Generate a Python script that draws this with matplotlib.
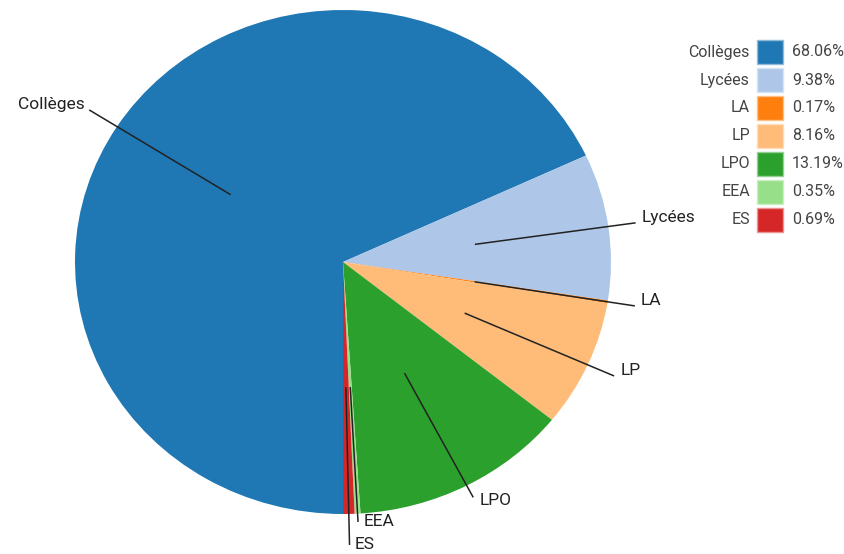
import matplotlib.pyplot as plt
import numpy as np
from matplotlib.patches import Rectangle

plt.rcParams['font.family'] = ['Roboto', 'DejaVu Sans']

labels = ["Collèges", "Lycées", "LA", "LP", "LPO", "EEA", "ES"]
values = [68.06, 9.38, 0.17, 8.16, 13.19, 0.35, 0.69]
colors = ["#1f77b4", "#aec7e8", "#ff7f0e", "#ffbb78", "#2ca02c", "#98df8a", "#d62728"]
borders = ["#8fbbd9", "#d6e3f3", "#ffc086", "#ffddbb", "#95cf95", "#cbefc4", "#eb9393"]
# how far out each leader line goes (in pie radii)
label_r = [1.12, 1.10, 1.10, 1.105, 1.05, 1.03, 1.12]

fig = plt.figure(figsize=(8.45, 5.54), dpi=100)
W, H = 845, 554
# pie is slightly wider than tall in the original
ax = fig.add_axes([75 / W, (H - 514) / H, 536 / W, 504 / H])
wedges, _ = ax.pie(values, colors=colors, startangle=-90, counterclock=False,
                   wedgeprops=dict(linewidth=0))
ax.set_aspect('auto')
ax.set_xlim(-1, 1)
ax.set_ylim(-1, 1)

for w, lab, r in zip(wedges, labels, label_r):
    ang = np.deg2rad((w.theta1 + w.theta2) / 2)
    x0, y0 = 0.5 * np.cos(ang), 0.5 * np.sin(ang)
    x1, y1 = r * np.cos(ang), r * np.sin(ang)
    ax.plot([x0, x1], [y0, y1], color="#222222", lw=1.1, clip_on=False)
    if np.cos(ang) < -0.1:
        ha, off = "right", (-4, 4)
    elif lab in ("EEA", "ES"):
        ha, off = "left", (4, 0)
    elif lab == "LPO":
        ha, off = "left", (5, -3)
    else:
        ha, off = "left", (5, 4)
    ax.annotate(lab, (x1, y1), xytext=off, textcoords="offset points",
                ha=ha, va="center", fontsize=12.5, color="#222222",
                annotation_clip=False)

# legend drawn by hand: name | swatch | percent
for i, (lab, v) in enumerate(zip(labels, values)):
    yc = 52 + i * 28
    fig.text(750 / W, 1 - yc / H, lab, ha="right", va="center", fontsize=11.5, color="#444444")
    fig.patches.append(Rectangle((757 / W, 1 - (yc + 12) / H), 26 / W, 24 / H,
                                 transform=fig.transFigure, facecolor=colors[i],
                                 edgecolor=borders[i], lw=1))
    fig.text(792 / W, 1 - yc / H, f"{v:.2f}%", ha="left", va="center", fontsize=11.5, color="#444444")

fig.savefig("out.png", dpi=100)
